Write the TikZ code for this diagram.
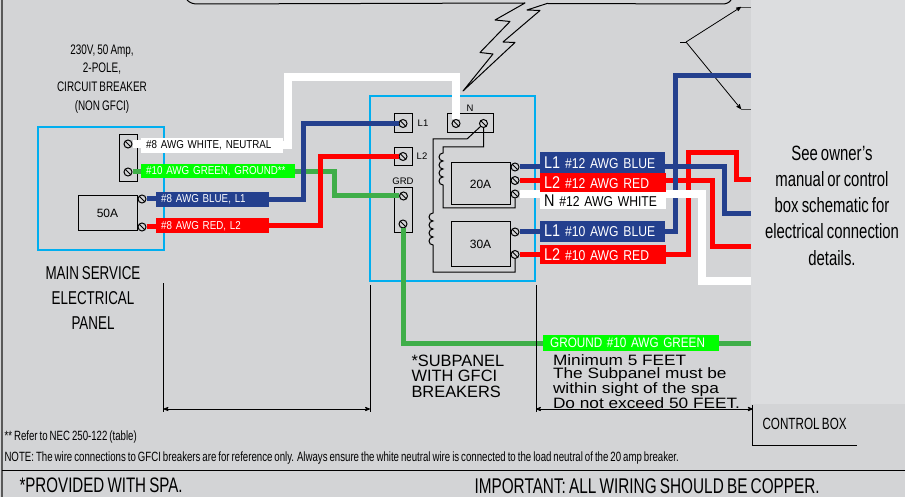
\documentclass[tikz,border=0pt]{standalone}
\usepackage{fontspec}
\setmainfont{Liberation Sans}
\newfontfamily\narrowfont[FakeStretch=0.72,WordSpace=0.75]{Liberation Sans}
\newfontfamily\wirefont[FakeStretch=0.85,WordSpace=0.8]{Liberation Sans}
\newfontfamily\widefont[FakeStretch=1.15]{Liberation Sans}
\usetikzlibrary{arrows}
\definecolor{sheetgray}{HTML}{D3D4D6}
\definecolor{panelgray}{HTML}{DCDDDF}
\definecolor{boxblue}{HTML}{00AEEF}
\definecolor{wireblue}{HTML}{24408E}
\definecolor{wirered}{HTML}{FF0000}
\definecolor{wiregreen}{HTML}{3FAE49}
\definecolor{tagblue}{HTML}{24408E}
\definecolor{taggreen}{HTML}{00FF00}
\newcommand{\bigtag}[1]{{\fontsize{17}{17}\selectfont #1}}
\tikzset{
    screw/.style={circle, draw, minimum size=8pt, inner sep=0pt, line width=1pt,
        path picture={\draw (path picture bounding box.north west) -- (path picture bounding box.south east);}},
    part/.style={draw, line width=1pt, inner sep=0pt, font=\fontsize{10.5}{12}\selectfont},
    panel/.style={draw=boxblue, line width=2.5pt},
    hookup/.style={line width=1pt},
    wire/.style={line width=5pt},
    whitewire/.style={line width=8pt, white},
    smalltag/.style={anchor=west, inner ysep=0pt, inner xsep=5pt, align=left, font=\wirefont\fontsize{11.5}{12}\selectfont},
    bigwire/.style={anchor=west, inner ysep=0pt, inner xsep=4pt, align=left, font=\wirefont\fontsize{14.3}{15}\selectfont},
    narrowtext/.style={align=center, font=\narrowfont\fontsize{#1}{#1}\selectfont},
    dimline/.style={<->, >=stealth', line width=.8pt},
    tickline/.style={line width=.9pt}
}
\begin{document}
\begin{tikzpicture}[x=1pt, y=-1pt]

    \useasboundingbox (0,0) rectangle (905,497);
    \fill[sheetgray] (0,0) rectangle (905,497);
    \fill[panelgray] (751,0) rectangle (905,404);
    \draw[line width=2pt, black!65] (2,0) -- (2,497);
    \coordinate (ruleL) at (2,470.5);
    \coordinate (ruleR) at (905,470.5);
    \draw[line width=1pt] (ruleL) -- (ruleR);

    % callout and bolt
    \draw[line width=1pt, line join=round] (187,0) .. controls (190,3) and (193,4) .. (198,4) -- (525,3)
        -- (495,20) -- (510,21.5) -- (480,52.5) -- (493,54) -- (463,91) -- (515,42.5) -- (503,42)
        -- (540,10.5) -- (527,10) -- (547,3.5) -- (722,4) .. controls (726,4) and (729,3) .. (731,0);

    % pointers on the right
    \coordinate (forkA) at (680,42);
    \coordinate (forkB) at (686,42);
    \coordinate (tipUp) at (741,7);
    \coordinate (tipDown) at (741,109);
    \coordinate (stubUp) at (751,7);
    \coordinate (stubDown) at (751,109);
    \draw[line width=.8pt] (forkA) -- (forkB);
    \draw[-stealth', line width=.8pt] (forkB) -- (tipUp);
    \draw[-stealth', line width=.8pt] (forkB) -- (tipDown);
    \draw[line width=.8pt, black!70] (tipUp) -- (stubUp);
    \draw[line width=.8pt, black!70] (tipDown) -- (stubDown);

    % main service panel
    \draw[panel] (38,127) rectangle (164,250);
    \node (neutralbar) [part, minimum width=18pt, minimum height=47pt] at (128,158.5) {};
    \node (mainbrk) [part, minimum width=59pt, minimum height=35pt] at (107.5,213.5) {\fontsize{12}{12}\selectfont 50A};
    \node (scrWhite) [screw] at (128,144) {};
    \node (scrGreen) [screw] at (128,172) {};
    \node (scrBlue) [screw] at (142,199) {};
    \node (scrRed) [screw] at (142,227) {};
    \node (mainnote) [narrowtext=13.8] at (102,79) {230V, 50 Amp,\\[5pt]2-POLE,\\[5pt]CIRCUIT BREAKER\\[5pt](NON GFCI)};
    \node (maintitle) [narrowtext=18.6] at (93,298) {MAIN SERVICE\\[6pt]ELECTRICAL\\[6pt]PANEL};

    % subpanel
    \draw[panel] (370,96) rectangle (535,281);
    \node (boxL1) [part, minimum width=18pt, minimum height=19pt] at (403,123.5) {};
    \node (boxL2) [part, minimum width=18pt, minimum height=18pt] at (403,156.5) {};
    \node (boxGrd) [part, minimum width=18pt, minimum height=45pt] at (403,210.5) {};
    \node (boxN) [part, minimum width=46pt, minimum height=19pt] at (470,123.5) {};
    \node (brk20) [part, minimum width=59pt, minimum height=42pt] at (480.5,184) {\fontsize{12}{12}\selectfont 20A};
    \node (brk30) [part, minimum width=59pt, minimum height=44pt] at (480.5,244) {\fontsize{12}{12}\selectfont 30A};
    \node (txtL1) at (423,123) {\fontsize{9.5}{10}\selectfont L1};
    \node (txtL2) at (422,156) {\fontsize{9.5}{10}\selectfont L2};
    \node (txtGrd) at (403,181) {\fontsize{9.5}{10}\selectfont GRD};
    \node (txtN) at (470,108) {\fontsize{9.5}{10}\selectfont N};
    \node (scrL1) [screw] at (403,123.5) {};
    \node (scrL2) [screw] at (403,156.5) {};
    \node (scrGa) [screw] at (403.5,196) {};
    \node (scrGb) [screw] at (403,224) {};
    \node (scrNa) [screw] at (456,123.5) {};
    \node (scrNb) [screw] at (483.5,123.5) {};
    \node (scrA) [screw] at (515,167) {};
    \node (scrB) [screw] at (515,180.5) {};
    \node (scrC) [screw] at (515,194) {};
    \node (scrD) [screw] at (515,232) {};
    \node (scrE) [screw] at (515,254.5) {};

    \draw[hookup] (scrNb.south west) -- (467,139) -- (433,139) -- (433,213) arc (90:270:4pt) arc (90:270:4pt)
        arc (90:270:4pt) arc (90:270:4pt) -- (433,272) -| (scrE.south);
    \draw[hookup] (scrNb.south) |- (443,147) -- (443,153) arc (90:270:4pt) arc (90:270:4pt)
        arc (90:270:4pt) arc (90:270:4pt) -- (443,208) -| (scrC.south);

    % wire tags
    \node (tagWhite) [smalltag, fill=white, text=black, minimum height=15pt, text width=132pt] at (141,145.5) {\#8 AWG WHITE, NEUTRAL};
    \node (tagGreen) [smalltag, fill=taggreen, text=white, minimum height=14pt, text width=144pt] at (141,171.5) {\#10 AWG GREEN, GROUND**};
    \node (tagBlue) [smalltag, fill=tagblue, text=white, minimum height=15pt, text width=103pt] at (156,199.5) {\#8 AWG BLUE, L1};
    \node (tagRed) [smalltag, fill=wirered, text=white, minimum height=15pt, text width=103pt] at (156,226) {\#8 AWG RED, L2};

    \node (tagA) [bigwire, fill=tagblue, text=white, minimum height=20.5pt, text width=117pt] at (540,162.5) {\bigtag{L1} \#12 AWG BLUE};
    \node (tagB) [bigwire, fill=wirered, text=white, minimum height=19pt, text width=118pt] at (540,183) {\bigtag{L2} \#12 AWG RED};
    \node (tagC) [bigwire, fill=white, text=black, minimum height=17pt, text width=118pt] at (540,201) {\bigtag{N}\ \#12 AWG WHITE};
    \node (tagD) [bigwire, fill=tagblue, text=white, minimum height=21pt, text width=117pt] at (540,231.2) {\bigtag{L1} \#10 AWG BLUE};
    \node (tagE) [bigwire, fill=wirered, text=white, minimum height=19pt, text width=118pt] at (540,254.5) {\bigtag{L2} \#10 AWG RED};
    \node (tagGnd) [anchor=west, fill=taggreen, text=white, inner ysep=0pt, inner xsep=7pt, minimum height=16pt, text width=162pt, font=\wirefont\fontsize{13.8}{14}\selectfont] at (543,343) {GROUND \#10 AWG GREEN};

    % left side wires
    \coordinate (whiteTop) at (288,77);
    \coordinate (blueTurn) at (303,123.5);
    \coordinate (redTurn) at (320,156.5);
    \coordinate (greenTurn) at (334,196);
    \draw[whitewire] (scrWhite.east) -- (tagWhite.west |- scrWhite);
    \draw[wire, wiregreen] (scrGreen.east) -- (tagGreen.west |- scrGreen);
    \draw[wire, wireblue] (scrBlue.east) -- (tagBlue.west |- scrBlue);
    \draw[wire, wirered] (scrRed.east) -- (tagRed.west |- scrRed);
    \draw[wire, wiregreen] (tagGreen.east) -| (greenTurn) -- (scrGa.west);
    \draw[wire, wireblue] (tagBlue.east) -| (blueTurn) -- (scrL1.west);
    \draw[wire, wirered] (tagRed.east) -| (redTurn) -- (scrL2.west);
    \draw[whitewire] (tagWhite.east) -| (whiteTop) -| (scrNa.north);
    \draw[wire, wiregreen] (scrGb.south) |- (tagGnd.west);

    % stubs on the breakers
    \draw[wire, wireblue] (scrA.east) -- (tagA.west |- scrA);
    \draw[wire, wirered] (scrB.east) -- (tagB.west |- scrB);
    \draw[whitewire] (scrC.east) -- (tagC.west |- scrC);
    \draw[wire, wireblue] (scrD.east) -- (tagD.west |- scrD);
    \draw[wire, wirered] (scrE.east) -- (tagE.west |- scrE);

    % wires to the control box
    \coordinate (endGnd) at (751,343);
    \coordinate (bendA) at (724.7,213.5);
    \coordinate (endA) at (751,213.5);
    \coordinate (bendB) at (712,247);
    \coordinate (endB) at (751,247);
    \coordinate (bendC) at (701.7,280.6);
    \coordinate (endC) at (751,280.6);
    \coordinate (bendD) at (675.7,76);
    \coordinate (endD) at (751,76);
    \coordinate (bendE) at (688,152.7);
    \coordinate (bendEb) at (736.7,180);
    \coordinate (endE) at (751,180);
    \draw[wire, wiregreen] (tagGnd.east) -- (endGnd);
    \draw[wire, wirered] (tagB.east |- scrB) -| (bendB) -- (endB);
    \draw[wire, wireblue] (tagD.east |- scrD) -| (bendD) -- (endD);
    \draw[wire, wirered] (tagE.east |- scrE) -| (bendE) -| (bendEb) -- (endE);
    \draw[wire, wireblue] (tagA.east |- scrA) -| (bendA) -- (endA);
    \draw[whitewire] (tagC.east |- scrC) -| (bendC) -- (endC);

    % dimensions
    \coordinate (dimA) at (163.5,409);
    \coordinate (dimB) at (370,409);
    \coordinate (dimC) at (536,409);
    \coordinate (dimD) at (752.8,409);
    \coordinate (dimAtop) at (163.5,283);
    \coordinate (dimBtop) at (370,285);
    \coordinate (dimCtop) at (536,285);
    \coordinate (dimAend) at (163.5,412);
    \coordinate (dimBend) at (370,412);
    \coordinate (dimCend) at (536,412);
    \coordinate (boxTop) at (752.8,405);
    \coordinate (boxCorner) at (752.8,445);
    \coordinate (boxEnd) at (857,445);
    \draw[tickline] (dimAtop) -- (dimAend);
    \draw[tickline] (dimBtop) -- (dimBend);
    \draw[tickline] (dimCtop) -- (dimCend);
    \draw[tickline] (boxTop) -- (boxCorner) -- (boxEnd);
    \draw[dimline] (dimA) -- (dimB);
    \draw[dimline] (dimC) -- (dimD);

    % free text
    \node (subtitle) [anchor=west, align=left, font=\fontsize{16.4}{15.5}\selectfont] at (408,376) {*SUBPANEL\\WITH GFCI\\BREAKERS};
    \node (distnote) [anchor=west, align=left, font=\widefont\fontsize{15}{13.3}\selectfont] at (549.5,381.5) {Minimum 5 FEET\\The Subpanel must be\\within sight of the spa\\Do not exceed 50 FEET.};
    \node (ctrltxt) [anchor=west, font=\narrowfont\fontsize{16.2}{17}\selectfont] at (759,424) {CONTROL BOX};
    \node (manualtxt) [narrowtext=20.7] at (832,205.5) {See owner’s\\[5.5pt]manual or control\\[5.5pt]box schematic for\\[5.5pt]electrical connection\\[5.5pt]details.};
    \node (refnote) [anchor=west, font=\narrowfont\fontsize{13.4}{13.4}\selectfont] at (1,437) {** Refer to NEC 250-122 (table)};
    \node (wirenote) [anchor=west, font=\narrowfont\fontsize{13.4}{13.4}\selectfont] at (1,457.7) {NOTE: The wire connections to GFCI breakers are for reference only. Always ensure the white neutral wire is connected to the load neutral of the 20 amp breaker.};
    \node (spanote) [anchor=west, font=\narrowfont\fontsize{21}{21}\selectfont] at (16,485.7) {*PROVIDED WITH SPA.};
    \node (coppernote) [anchor=west, font=\narrowfont\fontsize{21.3}{21.3}\selectfont] at (471,485.7) {IMPORTANT: ALL WIRING SHOULD BE COPPER.};

\end{tikzpicture}
\end{document}
